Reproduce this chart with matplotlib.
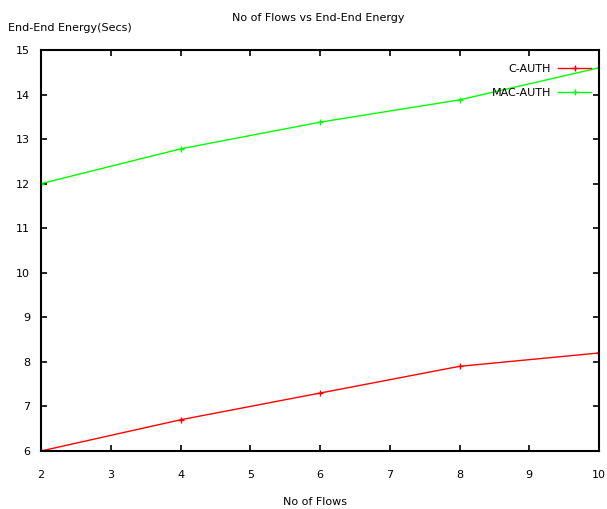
import matplotlib
matplotlib.use("Agg")
import matplotlib.pyplot as plt

flows = [2, 4, 6, 8, 10]
c_auth = [6.0, 6.7, 7.3, 7.9, 8.2]
mac_auth = [12.0, 12.78, 13.38, 13.88, 14.6]
xticks = [2, 3, 4, 5, 6, 7, 8, 9, 10]
yticks = [6, 7, 8, 9, 10, 11, 12, 13, 14, 15]

plt.rcParams['font.family'] = 'DejaVu Sans'
plt.rcParams['font.size'] = 8

fig = plt.figure(figsize=(6.07, 5.09), dpi=100)
ax = fig.add_axes([41/607, 1-451/509, (599-41)/607, (451-50)/509])

ax.plot(flows, c_auth, color='#ff0000', lw=1, marker='+', ms=5, mew=1, label='C-AUTH')
ax.plot(flows, mac_auth, color='#00ff00', lw=1, marker='+', ms=5, mew=1, label='MAC-AUTH')

ax.set_xlim(2, 10)
ax.set_ylim(6, 15)
ax.set_xticks(xticks)
ax.set_yticks(yticks)
ax.tick_params(direction='in', top=True, right=True, length=4, width=1.2, labelsize=8)
ax.tick_params(axis='x', pad=14)
ax.tick_params(axis='y', pad=8)
for s in ax.spines.values():
    s.set_linewidth(1.5)

fig.text(0.525, 1-18/509, 'No of Flows vs End-End Energy', ha='center', va='center', fontsize=8)
fig.text(8/607, 1-28/509, 'End-End Energy(Secs)', ha='left', va='center', fontsize=8)
fig.text(315/607, 1-502/509, 'No of Flows', ha='center', va='center', fontsize=8)

ax.legend(loc='upper right', frameon=False, markerfirst=False, fontsize=8,
          handlelength=3, handletextpad=0.6, borderaxespad=0.3, labelspacing=1.3,
          bbox_to_anchor=(1.0, 0.985))

fig.savefig('out.png', dpi=100)
